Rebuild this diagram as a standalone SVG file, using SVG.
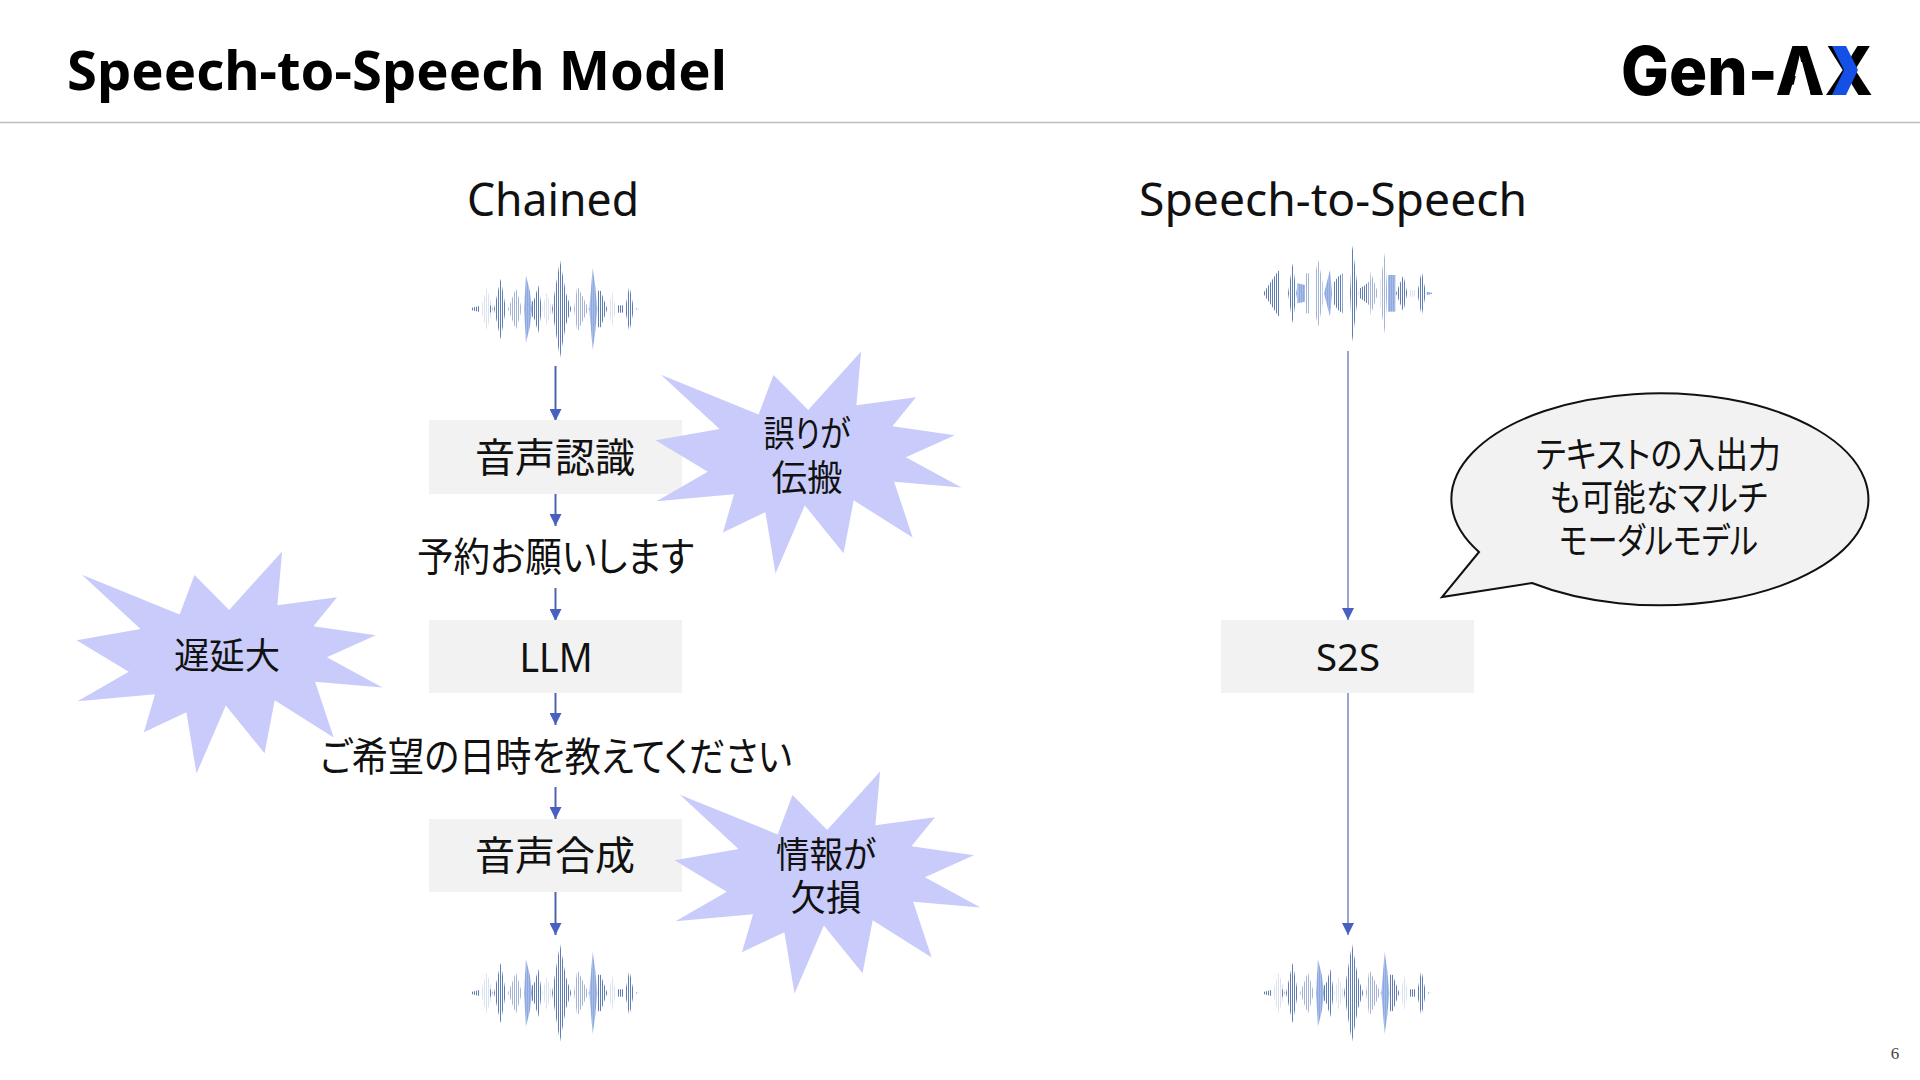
<svg xmlns="http://www.w3.org/2000/svg" xmlns:xlink="http://www.w3.org/1999/xlink" width="1920" height="1080" viewBox="0 0 1920 1080">
<style>
.jp{font-family:"Noto Sans CJK JP","Noto Sans",sans-serif;font-feature-settings:"palt";fill:#111;text-anchor:middle}
.lat{font-family:"Noto Sans","Open Sans",sans-serif;fill:#111;text-anchor:middle}
.box{fill:#f2f2f2}
.star{fill:#c9cbfa}
.conn{stroke:#4f64ad;stroke-width:2;fill:none}
.conn2{stroke:#7f90c4;stroke-width:1.6;fill:none}
.d{fill:url(#dk)}.m{fill:url(#md)}.l{fill:url(#lt)}.b{fill:url(#bl)}
</style>
<defs>
<pattern id="dk" patternUnits="userSpaceOnUse" width="6" height="12"><rect x="0" width="3" height="12" fill="#5f7cb4"/></pattern>
<pattern id="md" patternUnits="userSpaceOnUse" width="6" height="12"><rect x="0" width="3" height="12" fill="#a3b4d6"/></pattern>
<pattern id="lt" patternUnits="userSpaceOnUse" width="6" height="12"><rect x="0" width="3" height="12" fill="#dbe3f1"/></pattern>
<pattern id="bl" patternUnits="userSpaceOnUse" width="6" height="12"><rect x="0" width="6" height="12" fill="#a8bce8"/><rect x="3" width="3" height="12" fill="#8ea8e0"/></pattern>
<g id="waveA">
<polygon class="d" points="96,233 118,228 118,246 96,241"/>
<polygon class="l" points="122,237 140,175 160,237 140,299"/>
<polygon class="d" points="147,219 158,237 147,255"/>
<polygon class="d" points="162,237 182,146 198,237 182,328"/>
<polygon class="m" points="204,237 228,175 246,237 228,299"/>
<polygon class="b" points="252,237 258,136 270,185 276,237 270,289 258,338"/>
<polygon class="d" points="276,215 284,205 295,165 306,237 295,309 284,269 276,259"/>
<polygon class="l" points="306,237 320,187 336,237 320,287"/>
<polygon class="d" points="336,237 360,90 378,190 394,237 378,284 360,384"/>
<polygon class="m" points="402,237 412,167 446,237 412,307"/>
<polygon class="b" points="448,237 458,114 466,170 472,237 466,304 458,360"/>
<polygon class="d" points="472,182 482,182 502,237 482,292 472,292"/>
<polygon class="l" points="506,237 516,182 528,237 516,292"/>
<polygon class="d" points="532,226 550,226 550,248 532,248"/>
<polygon class="d" points="555,237 568,167 582,237 568,307"/>
<polygon class="m" points="585,233 596,236 596,238 585,241"/>
</g>
<g id="waveB">
<polygon class="d" points="42,186 85,122 88,122 88,258 85,258 42,194"/>
<polygon class="d" points="114,190 128,100 140,190 128,280"/>
<polygon class="b" points="142,160 165,165 165,215 142,220"/>
<polygon class="m" points="168,130 180,130 180,250 168,250"/>
<polygon class="m" points="198,120 205,90 218,160 218,220 205,290 198,260"/>
<polygon class="b" points="222,190 240,120 246,190 240,260"/>
<polygon class="d" points="250,160 264,140 278,130 278,250 264,240 250,220"/>
<polygon class="d" points="300,190 307,45 325,190 307,335"/>
<polygon class="d" points="330,175 346,165 356,155 356,225 346,215 330,205"/>
<polygon class="m" points="358,190 362,125 384,190 362,255"/>
<polygon class="m" points="392,150 405,68 412,190 405,312 392,230"/>
<polygon class="b" points="414,135 436,135 436,245 414,245"/>
<polygon class="d" points="438,190 460,135 472,190 460,245"/>
<polygon class="l" points="480,180 498,180 498,200 480,200"/>
<polygon class="d" points="502,190 515,122 528,190 515,258"/>
<polygon class="b" points="530,185 546,188 546,192 530,195"/>
</g>
<polygon id="burst" points="68,107 358,225 402,108 505,212 662,38 648,198 825,174 755,260 940,287 795,352 960,442 760,425 815,590 640,480 610,637 495,495 408,697 378,515 252,575 285,462 55,483 207,395 52,302 242,268"/>
<marker id="ah" markerUnits="userSpaceOnUse" markerWidth="12" markerHeight="12" refX="12" refY="6" orient="auto"><path d="M0,0L12,6L0,12Z" fill="#4a60c0"/></marker>
</defs>
<rect width="1920" height="1080" fill="#fff"/>
<g id="header">
<text x="67" y="90" style="font-family:'Noto Sans','Open Sans',sans-serif;font-weight:700;font-size:54px;fill:#000" textLength="660" lengthAdjust="spacingAndGlyphs">Speech-to-Speech Model</text>
<line x1="0" y1="122.5" x2="1920" y2="122.5" stroke="#bdbdbd" stroke-width="1.5"/>
</g>
<g id="logo">
<text x="1621" y="95" style="font-family:Inter,'Noto Sans',sans-serif;font-weight:800;font-size:67px;fill:#000" textLength="252" lengthAdjust="spacingAndGlyphs">Gen-AX</text>
<polygon points="1799,62 1802,62 1810,92 1792,92" fill="#fff"/>
<polygon points="1832,46 1846,46 1858,70 1846,95 1832,95 1844,70" fill="#1450e6"/>
</g>
<text class="lat" x="553" y="216" style="font-size:45px" textLength="172" lengthAdjust="spacingAndGlyphs">Chained</text>
<text class="lat" x="1333" y="216" style="font-size:45px" textLength="388" lengthAdjust="spacingAndGlyphs">Speech-to-Speech</text>
<g id="waves">
<use xlink:href="#waveA" href="#waveA" transform="translate(440,230) scale(.33333)"/>
<use xlink:href="#waveA" href="#waveA" transform="translate(440,914) scale(.33333)"/>
<use xlink:href="#waveB" href="#waveB" transform="translate(1250,230) scale(.33333)"/>
<use xlink:href="#waveA" href="#waveA" transform="translate(1232,914) scale(.33333)"/>
</g>
<g id="connectors">
<line class="conn" x1="555.5" y1="366" x2="555.5" y2="421" marker-end="url(#ah)"/>
<line class="conn" x1="555.5" y1="494" x2="555.5" y2="526" marker-end="url(#ah)"/>
<line class="conn" x1="555.5" y1="588" x2="555.5" y2="621" marker-end="url(#ah)"/>
<line class="conn" x1="555.5" y1="693" x2="555.5" y2="725" marker-end="url(#ah)"/>
<line class="conn" x1="555.5" y1="787" x2="555.5" y2="819" marker-end="url(#ah)"/>
<line class="conn" x1="555.5" y1="891" x2="555.5" y2="935" marker-end="url(#ah)"/>
<line class="conn2" x1="1348" y1="351" x2="1348" y2="620" marker-end="url(#ah)"/>
<line class="conn2" x1="1348" y1="693" x2="1348" y2="935" marker-end="url(#ah)"/>
</g>
<g id="node-asr"><rect class="box" x="429" y="420" width="253" height="74"/><text class="jp" x="555" y="472" style="font-size:40px">音声認識</text></g>
<g id="label-request"><text class="jp" x="555.5" y="571" style="font-size:40px" textLength="277" lengthAdjust="spacingAndGlyphs">予約お願いします</text></g>
<g id="node-llm"><rect class="box" x="429" y="620" width="253" height="73"/><text class="lat" x="556" y="672" style="font-size:40px" textLength="73" lengthAdjust="spacingAndGlyphs">LLM</text></g>
<g id="label-reply"><text class="jp" x="556" y="771" style="font-size:40px" textLength="472" lengthAdjust="spacingAndGlyphs">ご希望の日時を教えてください</text></g>
<g id="node-tts"><rect class="box" x="429" y="819" width="253" height="73"/><text class="jp" x="555" y="870" style="font-size:40px">音声合成</text></g>
<g id="node-s2s"><rect class="box" x="1221" y="620" width="253" height="73"/><text class="lat" x="1348" y="671" style="font-size:38px" textLength="64" lengthAdjust="spacingAndGlyphs">S2S</text></g>
<g id="burst-error">
<use xlink:href="#burst" href="#burst" class="star" transform="translate(638,338.6) scale(.337)"/>
<text class="jp" x="807" y="447" style="font-size:36px" textLength="87" lengthAdjust="spacingAndGlyphs">誤りが</text>
<text class="jp" x="807" y="491" style="font-size:36px" textLength="71" lengthAdjust="spacingAndGlyphs">伝搬</text>
</g>
<g id="burst-delay">
<use xlink:href="#burst" href="#burst" class="star" transform="translate(59,538.6) scale(.337)"/>
<text class="jp" x="227" y="669" style="font-size:36px" textLength="106" lengthAdjust="spacingAndGlyphs">遅延大</text>
</g>
<g id="burst-loss">
<use xlink:href="#burst" href="#burst" class="star" transform="translate(657,758.6) scale(.337)"/>
<text class="jp" x="826" y="868" style="font-size:36px" textLength="100" lengthAdjust="spacingAndGlyphs">情報が</text>
<text class="jp" x="826" y="911" style="font-size:36px" textLength="71" lengthAdjust="spacingAndGlyphs">欠損</text>
</g>
<g id="callout">
<path d="M1532,583 A208.5,106 0 1 0 1479,552 L1442,597 Z" fill="#f2f2f2" stroke="#111" stroke-width="2"/>
<text class="jp" x="1658.5" y="468" style="font-size:36px" textLength="245" lengthAdjust="spacingAndGlyphs">テキストの入出力</text>
<text class="jp" x="1658.5" y="511" style="font-size:36px" textLength="218" lengthAdjust="spacingAndGlyphs">も可能なマルチ</text>
<text class="jp" x="1658.5" y="554" style="font-size:36px" textLength="199" lengthAdjust="spacingAndGlyphs">モーダルモデル</text>
</g>
<text x="1895" y="1059" style="font-family:'Liberation Serif',serif;font-size:17px;fill:#444;text-anchor:middle">6</text>
</svg>
